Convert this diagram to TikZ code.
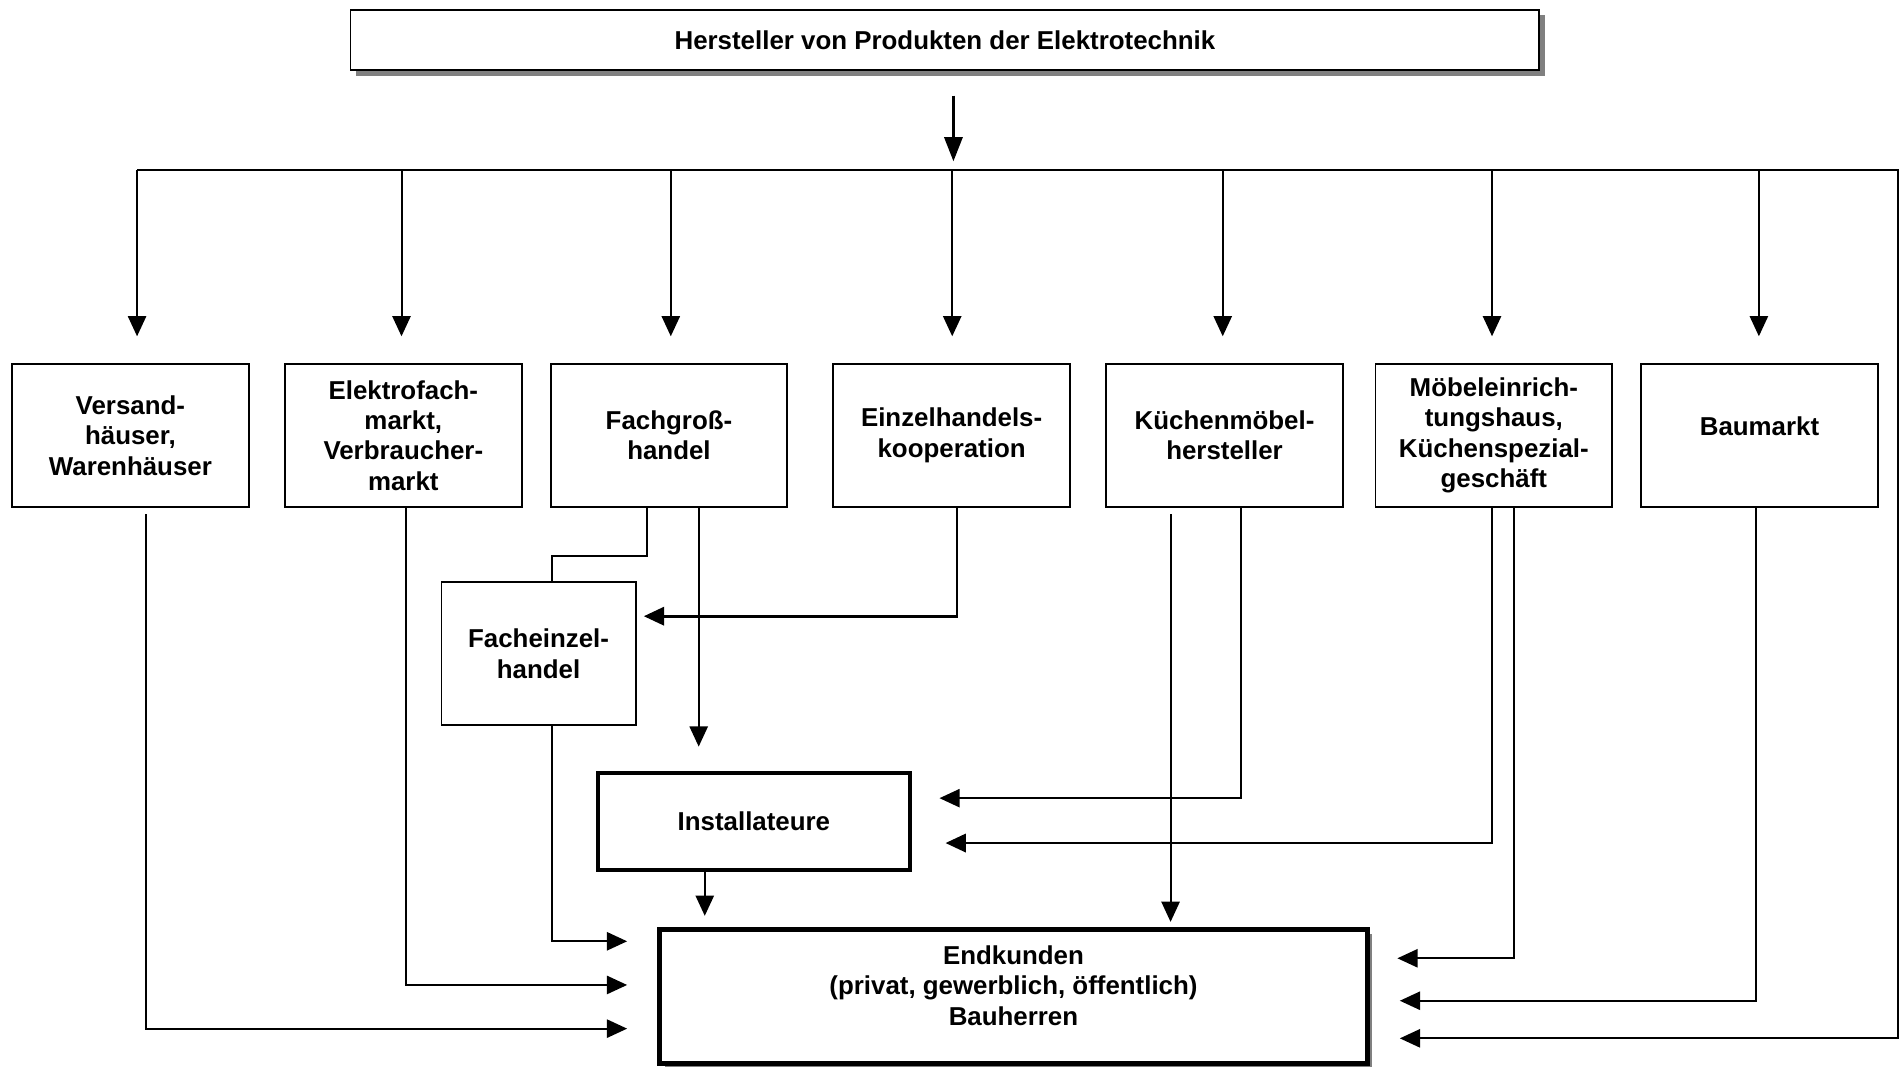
\documentclass[tikz,border=0pt]{standalone}
\usepackage{fontspec}
\setmainfont{Liberation Sans}
\usetikzlibrary{arrows.meta, positioning, calc, shadows}

\begin{document}
\begin{tikzpicture}[x=0.6pt, y=-0.6pt,
    box/.style={draw, line width=0.9pt, fill=white, minimum width=117pt, minimum height=70.8pt, inner sep=2pt, align=center, font=\bfseries\fontsize{12.8}{15}\selectfont},
    shade/.style={drop shadow={opacity=1, fill=gray, shadow xshift=2.6pt, shadow yshift=-2.6pt}},
    arr/.style={-{Triangle[length=10pt, width=9pt]}, line width=1pt},
    link/.style={line width=1pt}]

    \useasboundingbox (0,0) rectangle (1568,879);

    % Hersteller
    \node [box, shade, minimum width=588pt, minimum height=30pt] (herst) at (779,33) {Hersteller von Produkten der Elektrotechnik};

    % Handelsstufen
    \node [box] (versand) at (107.5,359) {Versand-\\häuser,\\Warenhäuser};
    \node [box] (elektro) at (332.5,359) {Elektrofach-\\markt,\\Verbraucher-\\markt};
    \node [box] (gross) at (551.5,359) {Fachgroß-\\handel};
    \node [box] (einzel) at (784.5,359) {Einzelhandels-\\kooperation};
    \node [box] (kuechen) at (1009.5,359) {Küchenmöbel-\\hersteller};
    \node [box] (moebel) at (1231.5,359) {Möbeleinrich-\\tungshaus,\\Küchenspezial-\\geschäft};
    \node [box, text depth=9pt] (baumarkt) at (1450.5,359) {Baumarkt};

    \node [box, minimum width=96pt] (fachein) at (444,539) {Facheinzel-\\handel};
    \node [box, line width=1.8pt, minimum width=154.2pt, minimum height=48pt] (install) at (621.5,677) {Installateure};
    \node [box, shade, line width=2.4pt, minimum width=349.8pt, minimum height=66.6pt, text depth=11pt] (ende) at (835.5,821.5) {Endkunden\\(privat, gewerblich, öffentlich)\\Bauherren};

    % Verteiler
    \coordinate (busL) at (113,140);
    \coordinate (busR) at (1565,140);
    \coordinate (bus) at (786,140);

    \draw [arr, line width=1.4pt, -{Triangle[length=12pt, width=9pt]}] ($(herst.south)+(7,20)$) -- ($(bus)+(0,-7)$);
    \draw [arr] (busL) -- (busR) |- ($(ende.east)+(25,34.5)$);
    \foreach \n/\dx in {versand/5.5, elektro/-1.5, gross/1.5, einzel/0.5, kuechen/-1.5, moebel/-1.5, baumarkt/-0.5}
        \draw [arr] ($(\n.north |- bus)+(\dx,0)$) -- ($(\n.north)+(\dx,-22)$);

    % Wege zu den Endkunden
    \draw [arr] ($(versand.south)+(12.5,5)$) |- ($(ende.west)+(-25,26.5)$);
    \draw [arr] ($(elektro.south)+(2.5,0)$) |- ($(ende.west)+(-25,-9.5)$);
    \draw [arr] ($(fachein.south)+(11,0)$) |- ($(ende.west)+(-25,-45.5)$);
    \draw [link] ($(gross.south)+(-18.5,0)$) |- ($(fachein.north)+(11,-21)$) -- ($(fachein.north)+(11,0)$);
    \draw [arr] ($(gross.south)+(24.5,0)$) -- ($(install.north)+(-45.5,-20)$);
    \draw [arr, line width=1.3pt] ($(einzel.south)+(4.5,0)$) |- ($(fachein.east)+(6,-31)$);
    \draw [arr] ($(install.south)+(-40.5,0)$) -- ($(ende.north)+(-254.5,-9)$);
    \draw [arr] ($(kuechen.south)+(-44.5,5)$) -- ($(ende.north)+(129.5,-4)$);
    \draw [arr] ($(kuechen.south)+(13.5,0)$) |- ($(install.east)+(23,-19)$);
    \draw [arr, line width=1.3pt] ($(moebel.south)+(-1.5,0)$) |- ($(install.east)+(28,18)$);
    \draw [arr] ($(moebel.south)+(16.5,0)$) |- ($(ende.east)+(23,-31.5)$);
    \draw [arr] ($(baumarkt.south)+(-2.5,0)$) |- ($(ende.east)+(25,3.5)$);
\end{tikzpicture}
\end{document}
